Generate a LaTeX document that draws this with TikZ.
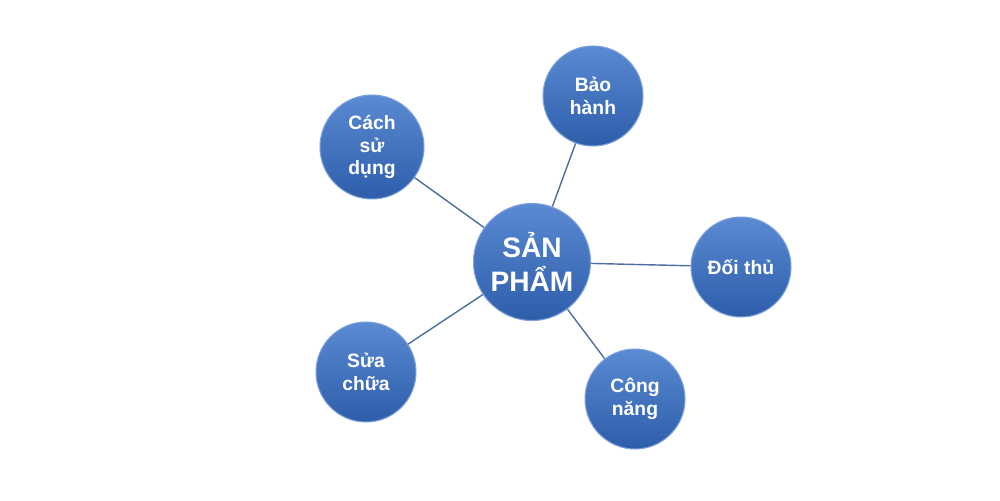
\documentclass[tikz,border=0pt]{standalone}
\usepackage{fontspec}
\setmainfont{Liberation Sans}
\definecolor{bubtop}{HTML}{5A8AD2}
\definecolor{bubbot}{HTML}{2E5DAA}
\definecolor{linkc}{HTML}{4A6E9E}
\begin{document}
\begin{tikzpicture}[
		x=0.02cm, y=-0.02cm,
		bong/.style={
			circle,
			minimum size=2cm,
			inner sep=0pt,
			align=center,
			top color=bubtop,
			bottom color=bubbot,
			draw=bubtop!80!white,
			line width=0.6pt,
			text=white,
			font=\bfseries\fontsize{11}{13}\selectfont
		},
		noi/.style={
			draw=linkc,
			line width=0.8pt
		}
		]
		
		\useasboundingbox (0,0) rectangle (1000,500);
		
		\node[bong, minimum size=2.34cm, font=\bfseries\fontsize{16}{19}\selectfont] (SP) at (532,262) {SẢN\\PHẨM};
		
		\node[bong] (BH) at (593,96) {Bảo\\hành};
		\node[bong, minimum size=2.08cm] (CSD) at (372,147) {Cách\\sử\\dụng};
		\node[bong] (DT) at (741,267) {Đối thủ};
		\node[bong] (SC) at (366,372) {Sửa\\chữa};
		\node[bong] (CN) at (635,399) {Công\\năng};
		
		%Lien ket
		\draw[noi] (SP) -- (BH);
		\draw[noi] (SP) -- (CSD);
		\draw[noi] (SP) -- (DT);
		\draw[noi] (SP) -- (SC);
		\draw[noi] (SP) -- (CN);
		
	\end{tikzpicture}
\end{document}
